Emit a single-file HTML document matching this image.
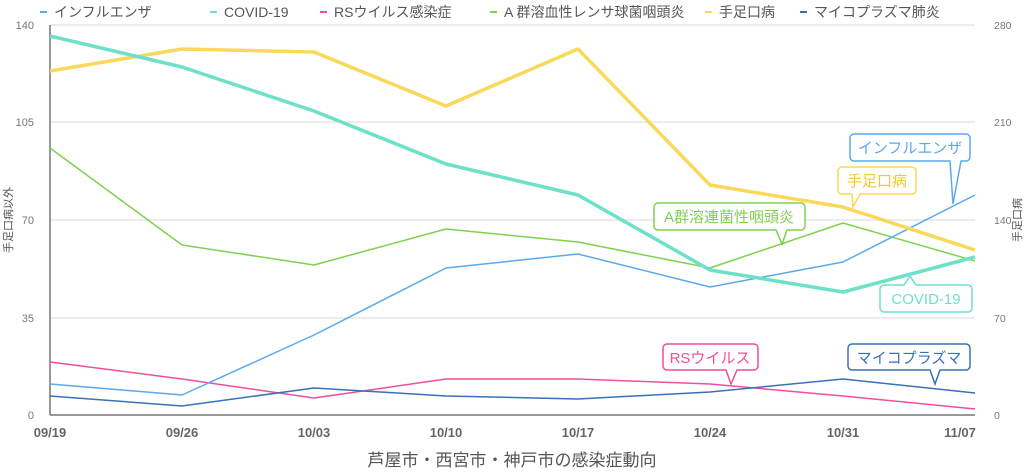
<!DOCTYPE html>
<html><head><meta charset="utf-8"><style>
html,body{margin:0;padding:0;background:#fff;}
svg{display:block;font-family:"Liberation Sans","Noto Sans CJK JP",sans-serif;}
</style></head><body>
<svg width="1024" height="472" viewBox="0 0 1024 472" xmlns="http://www.w3.org/2000/svg">
<g font-size="14" fill="#555">
<line x1="40" y1="12" x2="47" y2="12" stroke="#5aa9f0" stroke-width="2"/><text x="54" y="17">インフルエンザ</text>
<line x1="210" y1="12" x2="217" y2="12" stroke="#6de0c8" stroke-width="2"/><text x="224" y="17">COVID-19</text>
<line x1="320" y1="12" x2="327" y2="12" stroke="#ee4f9a" stroke-width="2"/><text x="334" y="17">RSウイルス感染症</text>
<line x1="490" y1="12" x2="497" y2="12" stroke="#80d050" stroke-width="2"/><text x="504" y="17">A 群溶血性レンサ球菌咽頭炎</text>
<line x1="705" y1="12" x2="712" y2="12" stroke="#fad85a" stroke-width="2"/><text x="719" y="17">手足口病</text>
<line x1="800" y1="12" x2="807" y2="12" stroke="#3a70b8" stroke-width="2"/><text x="814" y="17">マイコプラズマ肺炎</text>
</g>
<g stroke="#e6e6e6" stroke-width="1.5">
<line x1="50" y1="25" x2="975" y2="25"/><line x1="50" y1="122" x2="975" y2="122"/>
<line x1="50" y1="220" x2="975" y2="220"/><line x1="50" y1="318" x2="975" y2="318"/>
</g>
<line x1="50" y1="25" x2="50" y2="415" stroke="#777" stroke-width="1.5"/>
<line x1="50" y1="415" x2="975" y2="415" stroke="#777" stroke-width="1.5"/>
<g font-size="11" fill="#777" text-anchor="end">
<text x="34" y="29">140</text><text x="34" y="126">105</text><text x="34" y="224">70</text><text x="34" y="322">35</text><text x="34" y="419">0</text>
</g>
<g font-size="10.5" fill="#777">
<text x="994" y="29">280</text><text x="994" y="126">210</text><text x="994" y="224">140</text><text x="994" y="322">70</text><text x="994" y="419">0</text>
</g>
<text transform="translate(12,220) rotate(-90)" font-size="11" fill="#555" text-anchor="middle">手足口病以外</text>
<text transform="translate(1021,220) rotate(-90)" font-size="11" fill="#555" text-anchor="middle">手足口病</text>
<g font-size="13" font-weight="bold" fill="#666" text-anchor="middle">
<text x="50" y="437">09/19</text><text x="182" y="437">09/26</text><text x="314" y="437">10/03</text><text x="446" y="437">10/10</text><text x="578" y="437">10/17</text><text x="710" y="437">10/24</text><text x="843" y="437">10/31</text><text x="960" y="437">11/07</text>
</g>
<text x="512" y="466" font-size="17" fill="#555" text-anchor="middle">芦屋市・西宮市・神戸市の感染症動向</text>
<g fill="none" stroke-linejoin="round">
<polyline stroke="#ee4f9a" stroke-width="1.5" points="50,362 182,379 314,398 446,379 578,379 710,384 843,396 975,409"/>
<polyline stroke="#3a70b8" stroke-width="1.5" points="50,396 182,406 314,388 446,396 578,399 710,392 843,379 975,393"/>
<polyline stroke="#80d050" stroke-width="1.5" points="50,148 182,245 314,265 446,229 578,242 710,268 843,223 975,261"/>
<polyline stroke="#5aa9f0" stroke-width="1.5" points="50,384 182,395 314,335 446,268 578,254 710,287 843,262 975,195"/>
<polyline stroke="#fad85a" stroke-width="3.5" points="50,71 182,49 314,52 446,106 578,49 710,185 843,207 975,250"/>
<polyline stroke="#6de0c8" stroke-width="3.5" points="50,36 182,67 314,111 446,164 578,195 710,270 843,292 975,257"/>
</g>
<g font-size="15" stroke-width="1.5">
<path d="M854,134 H966 a4,4 0 0 1 4,4 V157 a4,4 0 0 1 -4,4 H961 L953,204 L950,161 H854 a4,4 0 0 1 -4,-4 V138 a4,4 0 0 1 4,-4Z" fill="#fff" stroke="#5aa9f0"/>
<text x="910" y="153" fill="#5aa9f0" text-anchor="middle">インフルエンザ</text>
<path d="M842,167 H912 a4,4 0 0 1 4,4 V190 a4,4 0 0 1 -4,4 H860 L853,207 L852,194 H842 a4,4 0 0 1 -4,-4 V171 a4,4 0 0 1 4,-4Z" fill="#fff" stroke="#fad85a"/>
<text x="877" y="186" fill="#f2c830" text-anchor="middle">手足口病</text>
<path d="M658,203 H801 a4,4 0 0 1 4,4 V226 a4,4 0 0 1 -4,4 H787 L782,244 L776,230 H658 a4,4 0 0 1 -4,-4 V207 a4,4 0 0 1 4,-4Z" fill="#fff" stroke="#80d050"/>
<text x="729" y="222" fill="#80d050" text-anchor="middle">A群溶連菌性咽頭炎</text>
<path d="M884,285 H904 L910,276 L916,285 H968 a4,4 0 0 1 4,4 V308 a4,4 0 0 1 -4,4 H884 a4,4 0 0 1 -4,-4 V289 a4,4 0 0 1 4,-4Z" fill="#fff" stroke="#6de0c8"/>
<text x="926" y="304" fill="#6de0c8" text-anchor="middle">COVID-19</text>
<path d="M667,344 H754 a4,4 0 0 1 4,4 V366 a4,4 0 0 1 -4,4 H737 L731,384 L726,370 H667 a4,4 0 0 1 -4,-4 V348 a4,4 0 0 1 4,-4Z" fill="#fff" stroke="#ee4f9a"/>
<text x="710" y="363" fill="#ee4f9a" text-anchor="middle">RSウイルス</text>
<path d="M852,344 H966 a4,4 0 0 1 4,4 V366 a4,4 0 0 1 -4,4 H940 L935,384 L930,370 H852 a4,4 0 0 1 -4,-4 V348 a4,4 0 0 1 4,-4Z" fill="#fff" stroke="#3a70b8"/>
<text x="909" y="363" fill="#3a70b8" text-anchor="middle">マイコプラズマ</text>
</g>
</svg>
</body></html>
